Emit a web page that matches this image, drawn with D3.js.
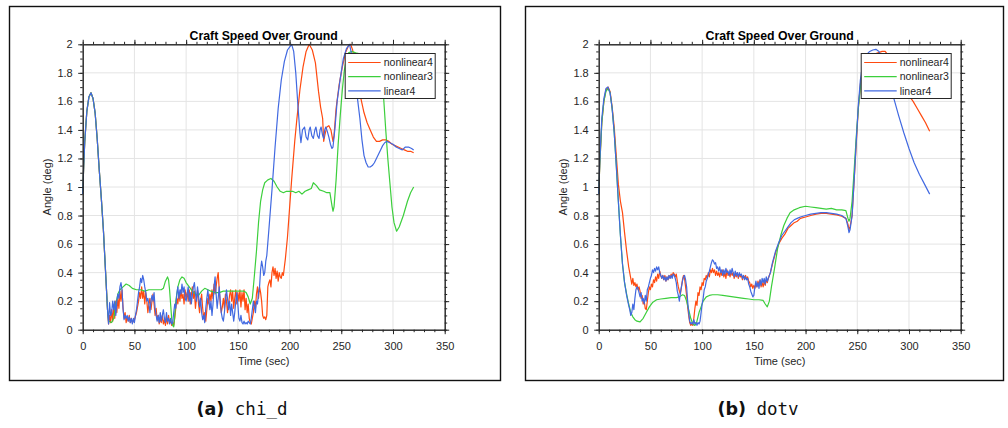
<!DOCTYPE html>
<html>
<head>
<meta charset="utf-8">
<script src="https://cdn.jsdelivr.net/npm/d3@7"></script>
<style>
  body { margin: 0; background: #fff; }
  svg { display: block; }
</style>
</head>
<body>
<div id="chart"></div>
<script>
// axis ticks
const timeTicks = [0, 50, 100, 150, 200, 250, 300, 350]
const angleTicks = [0, 0.2, 0.4, 0.6, 0.8, 1, 1.2, 1.4, 1.6, 1.8, 2]
const seriesNames = ['nonlinear4', 'nonlinear3', 'linear4']
const chartTitle = 'Craft Speed Over Ground'
const xLabel = 'Time (sec)'
const yLabel = 'Angle (deg)'

// (a) chi_d  -- [time, angle]
const chiStart = [[0,0.95],[1,1.15],[2,1.32],[4,1.53],[6,1.63],[8,1.66],[10,1.62],[12,1.52],[14,1.34],[16,1.12],[18,0.92],[20,0.7],[22,0.42],[24,0.14]]

const chiNonlinear4 = [[25,0.04],[26,0.1],[27,0.05],[28,0.14],[29,0.06],[30,0.16],[31,0.08],[32,0.2],[33,0.12],[34,0.22],[35,0.15],[36,0.27],[37,0.2],[38,0.28],[39,0.15],[40,0.08],[41,0.12],[42,0.05],[43,0.09],[44,0.06],[45,0.1],[46,0.05],[47,0.08],[48,0.05],[50,0.07],[52,0.12],[54,0.2],[55,0.26],[56,0.22],[57,0.3],[58,0.22],[59,0.27],[60,0.18],[61,0.26],[62,0.2],[63,0.12],[64,0.18],[65,0.22],[66,0.14],[67,0.2],[68,0.25],[69,0.18],[70,0.1],[71,0.15],[72,0.07],[73,0.1],[74,0.04],[75,0.08],[76,0.05],[77,0.1],[78,0.04],[79,0.07],[80,0.03],[81,0.09],[82,0.04],[83,0.1],[84,0.05],[85,0.06],[86,0.03],[87,0.05],[88,0.03],[89,0.08],[90,0.15],[91,0.22],[92,0.18],[93,0.26],[94,0.2],[95,0.28],[96,0.22],[97,0.25],[98,0.18],[99,0.28],[100,0.22],[101,0.26],[102,0.2],[103,0.28],[104,0.18],[105,0.24],[106,0.3],[107,0.22],[108,0.27],[109,0.15],[110,0.22],[111,0.28],[112,0.18],[113,0.12],[114,0.2],[115,0.25],[116,0.15],[117,0.08],[118,0.12],[119,0.06],[120,0.14],[121,0.22],[122,0.18],[123,0.25],[124,0.2],[125,0.28],[126,0.22],[127,0.32],[128,0.25],[129,0.3],[130,0.36],[131,0.4],[132,0.28],[133,0.18],[134,0.12],[135,0.16],[136,0.22],[137,0.15],[138,0.25],[139,0.2],[140,0.12],[141,0.18],[142,0.24],[143,0.28],[144,0.2],[145,0.27],[146,0.15],[147,0.22],[148,0.28],[149,0.18],[150,0.26],[151,0.2],[152,0.28],[153,0.16],[154,0.26],[155,0.2],[156,0.28],[157,0.14],[158,0.22],[159,0.12],[160,0.18],[161,0.08],[162,0.05],[163,0.04],[164,0.08],[165,0.12],[166,0.2],[167,0.15],[168,0.25],[169,0.3],[170,0.22],[171,0.3],[172,0.26],[173,0.2],[174,0.1],[175,0.08],[176,0.09],[177,0.07],[178,0.1],[179,0.3],[180,0.33],[181,0.35],[182,0.3],[183,0.4],[184,0.44],[185,0.38],[186,0.43],[187,0.36],[188,0.41],[189,0.34],[190,0.4],[191,0.37],[192,0.36],[193,0.4],[194,0.38],[195,0.44],[196,0.5],[198,0.65],[200,0.85],[202,1.05],[205,1.32],[207,1.47],[210,1.68],[213,1.84],[216,1.95],[219,2.0],[222,1.96],[225,1.87],[228,1.67],[230,1.56],[232,1.48],[233,1.32],[234,1.36],[236,1.42],[238,1.43],[240,1.4],[242,1.32],[243,1.36],[245,1.55],[248,1.72],[251,1.84],[254,1.94],[257,1.99],[259,2.0],[261,1.96],[263,1.88],[265,1.78],[267,1.7],[269,1.62],[272,1.52],[275,1.45],[278,1.4],[281,1.35],[284,1.32],[287,1.32],[290,1.33],[293,1.33],[296,1.32],[299,1.3],[302,1.29],[305,1.28],[308,1.27],[311,1.26],[314,1.25],[317,1.25],[320,1.24]]

const chiNonlinear3 = [[25,0.06],[28,0.05],[30,0.08],[32,0.18],[34,0.25],[36,0.28],[39,0.3],[42,0.32],[45,0.31],[48,0.29],[52,0.28],[56,0.28],[60,0.27],[64,0.28],[68,0.28],[72,0.28],[76,0.28],[78,0.29],[80,0.34],[82,0.37],[83,0.35],[84,0.28],[85,0.18],[86,0.08],[87,0.03],[88,0.02],[89,0.1],[90,0.2],[92,0.3],[94,0.35],[96,0.37],[98,0.36],[100,0.33],[103,0.3],[106,0.27],[109,0.25],[112,0.24],[115,0.27],[118,0.29],[121,0.28],[124,0.27],[128,0.26],[132,0.26],[136,0.27],[140,0.27],[144,0.27],[148,0.27],[152,0.27],[156,0.27],[158,0.26],[160,0.23],[162,0.18],[164,0.22],[166,0.38],[168,0.55],[170,0.75],[172,0.9],[174,0.98],[176,1.03],[179,1.05],[182,1.06],[185,1.04],[188,1.0],[191,0.97],[194,0.96],[197,0.97],[200,0.97],[203,0.97],[206,0.96],[209,0.97],[212,0.95],[215,0.97],[218,0.98],[221,0.99],[223,1.03],[226,1.01],[229,0.98],[233,0.97],[236,0.96],[239,0.96],[241,0.87],[242,0.83],[243,0.86],[245,1.05],[247,1.3],[249,1.5],[251,1.68],[253,1.82],[255,1.9],[257,1.94],[260,1.95],[264,1.94],[270,1.93],[276,1.92],[282,1.91],[286,1.88],[289,1.78],[291,1.62],[293,1.4],[295,1.2],[297,1.03],[299,0.86],[301,0.75],[303.5,0.69],[306,0.72],[310,0.8],[314,0.9],[317,0.96],[320,1.0]]

const chiLinear4 = [[25,0.04],[26,0.19],[27,0.1],[28,0.12],[29,0.2],[30,0.14],[31,0.2],[32,0.1],[33,0.2],[34,0.25],[35,0.22],[36,0.3],[37,0.33],[38,0.28],[39,0.15],[40,0.07],[41,0.1],[42,0.08],[43,0.1],[44,0.06],[45,0.09],[46,0.05],[47,0.08],[48,0.04],[49,0.08],[50,0.05],[51,0.1],[52,0.14],[53,0.2],[54,0.26],[55,0.3],[56,0.36],[57,0.33],[58,0.38],[59,0.35],[60,0.3],[61,0.26],[62,0.2],[63,0.22],[64,0.18],[65,0.12],[66,0.2],[67,0.24],[68,0.2],[69,0.26],[70,0.15],[71,0.1],[72,0.06],[73,0.1],[74,0.05],[75,0.12],[76,0.06],[77,0.1],[78,0.14],[79,0.08],[80,0.05],[81,0.12],[82,0.06],[83,0.08],[84,0.04],[85,0.08],[86,0.04],[87,0.05],[88,0.12],[89,0.18],[90,0.15],[91,0.25],[92,0.3],[93,0.22],[94,0.28],[95,0.25],[96,0.32],[97,0.26],[98,0.3],[99,0.22],[100,0.2],[101,0.25],[102,0.3],[103,0.2],[104,0.26],[105,0.18],[106,0.24],[107,0.3],[108,0.33],[109,0.25],[110,0.2],[111,0.3],[112,0.24],[113,0.16],[114,0.22],[115,0.12],[116,0.07],[117,0.1],[118,0.05],[119,0.15],[120,0.22],[121,0.28],[122,0.2],[123,0.14],[124,0.2],[125,0.1],[126,0.18],[127,0.3],[128,0.37],[129,0.25],[130,0.15],[131,0.22],[132,0.3],[133,0.2],[134,0.12],[135,0.08],[136,0.06],[137,0.12],[138,0.2],[139,0.28],[140,0.22],[141,0.14],[142,0.2],[143,0.1],[144,0.18],[145,0.12],[146,0.06],[147,0.12],[148,0.2],[149,0.26],[150,0.18],[151,0.08],[152,0.06],[153,0.1],[154,0.05],[155,0.04],[156,0.06],[157,0.04],[158,0.05],[159,0.04],[160,0.06],[161,0.05],[162,0.04],[163,0.08],[164,0.14],[165,0.2],[166,0.16],[167,0.12],[168,0.2],[169,0.18],[170,0.26],[171,0.3],[172,0.42],[173,0.48],[174,0.44],[175,0.38],[176,0.4],[177,0.48],[178,0.52],[180,0.7],[183,0.98],[186,1.28],[189,1.55],[192,1.75],[195,1.88],[198,1.96],[202,2.0],[204,1.95],[206,1.8],[208,1.58],[210,1.38],[211,1.31],[212.5,1.4],[214.5,1.42],[216,1.35],[217.6,1.33],[219,1.4],[220,1.42],[221.5,1.36],[223,1.34],[224.5,1.4],[225.5,1.42],[227,1.36],[228.5,1.34],[229.5,1.4],[230.5,1.42],[232,1.36],[233,1.34],[234,1.4],[235,1.42],[236.5,1.39],[238,1.35],[239.5,1.3],[241,1.27],[242,1.28],[244,1.42],[246,1.6],[249,1.76],[252,1.9],[255,1.97],[258,2.0],[260,1.93],[262,1.82],[264,1.72],[266,1.6],[268,1.48],[270,1.33],[272,1.22],[274,1.17],[276,1.14],[278,1.14],[280,1.15],[282,1.17],[284,1.2],[286,1.23],[288,1.26],[290,1.29],[292,1.31],[294,1.32],[297,1.31],[300,1.3],[303,1.28],[306,1.27],[309,1.26],[312,1.28],[315,1.28],[318,1.27],[320,1.26]]

// (b) dotv  -- [time, angle]
const dotvNonlinear4 = [[0,0.95],[1,1.15],[2,1.3],[3,1.45],[5,1.6],[7,1.68],[9,1.7],[11,1.67],[13,1.56],[15,1.42],[17,1.22],[19,1.02],[21,0.9],[23,0.82],[25,0.68],[27,0.55],[29,0.44],[31,0.36],[32,0.32],[33,0.36],[34,0.31],[35,0.33],[36,0.3],[37,0.32],[38,0.28],[39,0.3],[40,0.27],[41,0.22],[42,0.24],[43,0.18],[44,0.2],[45,0.15],[46,0.14],[47,0.2],[48,0.26],[49,0.3],[50,0.28],[51,0.32],[52,0.3],[53,0.35],[54,0.33],[55,0.37],[56,0.34],[57,0.39],[58,0.36],[59,0.41],[60,0.38],[61,0.36],[62,0.38],[63,0.35],[64,0.38],[65,0.34],[66,0.37],[67,0.35],[68,0.38],[69,0.36],[70,0.39],[71,0.37],[72,0.4],[73,0.39],[74,0.37],[75,0.39],[76,0.34],[77,0.3],[78,0.27],[79,0.25],[80,0.3],[81,0.35],[82,0.38],[83,0.36],[84,0.3],[85,0.24],[86,0.16],[87,0.1],[88,0.05],[89,0.03],[90,0.04],[91,0.03],[92,0.08],[93,0.15],[94,0.2],[95,0.17],[96,0.26],[97,0.24],[98,0.3],[99,0.28],[100,0.33],[101,0.31],[102,0.36],[103,0.35],[104,0.38],[105,0.36],[106,0.4],[107,0.37],[108,0.42],[109,0.4],[110,0.43],[111,0.4],[112,0.42],[113,0.38],[114,0.41],[115,0.38],[116,0.4],[117,0.37],[118,0.41],[119,0.38],[120,0.42],[121,0.37],[122,0.4],[123,0.36],[124,0.42],[125,0.38],[126,0.4],[127,0.37],[128,0.41],[129,0.38],[130,0.4],[131,0.36],[132,0.39],[133,0.37],[134,0.4],[135,0.36],[136,0.39],[137,0.37],[138,0.38],[139,0.35],[140,0.38],[141,0.36],[142,0.38],[143,0.35],[144,0.37],[145,0.34],[146,0.33],[147,0.3],[148,0.32],[149,0.29],[150,0.31],[151,0.29],[152,0.32],[153,0.3],[154,0.34],[155,0.31],[156,0.35],[157,0.3],[158,0.33],[159,0.3],[160,0.34],[161,0.31],[162,0.35],[163,0.33],[164,0.36],[166,0.4],[168,0.46],[171,0.54],[174,0.6],[177,0.64],[180,0.67],[183,0.71],[186,0.73],[189,0.75],[192,0.76],[195,0.78],[200,0.79],[205,0.8],[210,0.81],[215,0.815],[220,0.815],[225,0.81],[230,0.805],[235,0.795],[239,0.78],[241,0.74],[242,0.7],[243,0.72],[245,0.8],[247,1.05],[249,1.3],[251,1.55],[253,1.72],[255,1.82],[258,1.88],[262,1.92],[266,1.93],[270,1.94],[274,1.95],[277,1.95],[280,1.92],[285,1.86],[290,1.78],[295,1.7],[300,1.64],[304,1.6],[308,1.55],[312,1.5],[316,1.45],[320,1.39]]

const dotvNonlinear3 = [[0,0.95],[1,1.15],[2,1.3],[3,1.45],[5,1.6],[7,1.67],[9,1.69],[11,1.66],[13,1.55],[15,1.38],[17,1.15],[19,0.9],[21,0.66],[23,0.46],[25,0.33],[27,0.25],[29,0.18],[31,0.12],[33,0.09],[35,0.07],[37,0.06],[40,0.055],[43,0.08],[46,0.12],[49,0.16],[52,0.19],[56,0.21],[60,0.215],[65,0.22],[70,0.225],[75,0.225],[78,0.23],[81,0.245],[83,0.24],[85,0.2],[87,0.14],[89,0.08],[91,0.04],[93,0.03],[95,0.06],[97,0.12],[99,0.16],[101,0.2],[104,0.23],[107,0.24],[110,0.245],[115,0.245],[120,0.24],[125,0.235],[130,0.23],[135,0.225],[140,0.22],[145,0.215],[150,0.21],[155,0.21],[159,0.205],[161,0.18],[163,0.16],[165,0.2],[167,0.3],[170,0.43],[173,0.57],[176,0.66],[179,0.73],[182,0.78],[185,0.82],[189,0.84],[194,0.855],[200,0.865],[205,0.86],[210,0.855],[215,0.85],[220,0.845],[225,0.85],[230,0.84],[235,0.84],[239,0.835],[241,0.78],[242,0.76],[243,0.78],[245,0.9],[247,1.12],[249,1.35],[251,1.55],[253,1.7],[255,1.8],[258,1.86],[262,1.9],[266,1.92]]

const dotvLinear4 = [[0,0.95],[1,1.17],[2,1.33],[3,1.48],[5,1.62],[7,1.69],[9,1.7],[11,1.66],[13,1.55],[15,1.38],[17,1.15],[19,0.9],[21,0.66],[23,0.46],[25,0.33],[27,0.24],[29,0.17],[30,0.14],[31,0.1],[32,0.12],[33,0.18],[34,0.14],[35,0.22],[36,0.28],[37,0.3],[38,0.29],[39,0.26],[40,0.23],[41,0.26],[42,0.2],[43,0.22],[44,0.18],[45,0.24],[46,0.2],[47,0.28],[48,0.3],[49,0.33],[50,0.36],[51,0.38],[52,0.42],[53,0.4],[54,0.43],[55,0.41],[56,0.44],[57,0.42],[58,0.44],[59,0.4],[60,0.38],[61,0.36],[62,0.38],[63,0.35],[64,0.37],[65,0.34],[66,0.37],[67,0.35],[68,0.38],[69,0.36],[70,0.38],[71,0.36],[72,0.39],[73,0.38],[74,0.36],[75,0.33],[76,0.27],[77,0.24],[78,0.2],[79,0.26],[80,0.3],[81,0.34],[82,0.37],[83,0.38],[84,0.35],[85,0.3],[86,0.2],[87,0.12],[88,0.06],[89,0.04],[90,0.05],[91,0.04],[92,0.07],[93,0.04],[94,0.05],[95,0.03],[96,0.05],[97,0.04],[98,0.06],[99,0.12],[100,0.18],[101,0.22],[102,0.28],[103,0.3],[104,0.34],[105,0.36],[106,0.39],[107,0.41],[108,0.44],[109,0.47],[110,0.49],[111,0.48],[112,0.46],[113,0.47],[114,0.43],[115,0.44],[116,0.41],[117,0.44],[118,0.4],[119,0.42],[120,0.38],[121,0.42],[122,0.39],[123,0.43],[124,0.4],[125,0.41],[126,0.38],[127,0.42],[128,0.39],[129,0.43],[130,0.4],[131,0.37],[132,0.41],[133,0.38],[134,0.4],[135,0.37],[136,0.4],[137,0.38],[138,0.39],[139,0.36],[140,0.38],[141,0.35],[142,0.37],[143,0.35],[144,0.36],[145,0.32],[146,0.3],[147,0.27],[148,0.25],[149,0.23],[150,0.24],[151,0.3],[152,0.34],[153,0.3],[154,0.33],[155,0.29],[156,0.35],[157,0.31],[158,0.36],[159,0.33],[160,0.36],[161,0.32],[162,0.37],[163,0.34],[164,0.36],[166,0.4],[168,0.47],[171,0.55],[174,0.61],[177,0.66],[180,0.69],[183,0.72],[186,0.75],[189,0.77],[192,0.78],[195,0.79],[200,0.8],[205,0.81],[210,0.815],[215,0.82],[220,0.82],[225,0.815],[230,0.81],[235,0.8],[239,0.78],[241,0.72],[242,0.68],[243,0.7],[245,0.8],[247,1.05],[249,1.32],[251,1.57],[253,1.75],[255,1.85],[258,1.92],[262,1.95],[265,1.96],[268,1.965],[271,1.95],[275,1.88],[280,1.77],[285,1.63],[290,1.5],[295,1.38],[300,1.27],[305,1.17],[310,1.09],[315,1.02],[320,0.95]]

const panels = [
  { left: 9, frameWidth: 491, label: '(a)', name: 'chi_d',
    series: [chiStart.concat(chiNonlinear4), chiStart.concat(chiNonlinear3), chiStart.concat(chiLinear4)] },
  { left: 525, frameWidth: 478, label: '(b)', name: 'dotv',
    series: [dotvNonlinear4, dotvNonlinear3, dotvLinear4] }
]

const colors = ['#ff4a0f', '#3ccf3c', '#4169e1']
const axisColor = '#262626'
const gridColor = '#e4e4e4'
const font = 'Liberation Sans, Arial, Helvetica, sans-serif'

const width = 1008
const height = 428

const svg = d3.select('#chart')
  .append('svg')
  .attr('width', width)
  .attr('height', height)
  .style('font-family', font)

function drawPanel (panel) {
  const frame = { top: 6, height: 374 }
  const plot = { left: 73.7, top: 44.3, width: 362, height: 285.4 }

  const g = svg.append('g')
    .attr('transform', `translate(${panel.left},0)`)

  g.append('rect')
    .attr('x', 0.5)
    .attr('y', frame.top + 0.5)
    .attr('width', panel.frameWidth)
    .attr('height', frame.height)
    .attr('fill', 'none')
    .attr('stroke', '#111')
    .attr('stroke-width', 1.4)

  const xScale = d3.scaleLinear()
    .domain([0, 350])
    .range([plot.left, plot.left + plot.width])

  const yScale = d3.scaleLinear()
    .domain([0, 2])
    .range([plot.top + plot.height, plot.top])

  // grid
  g.append('g')
    .selectAll('line')
    .data(timeTicks.slice(1, -1))
    .join('line')
    .attr('x1', d => xScale(d)).attr('x2', d => xScale(d))
    .attr('y1', yScale(0)).attr('y2', yScale(2))
    .attr('stroke', gridColor)
  g.append('g')
    .selectAll('line')
    .data(angleTicks.slice(1, -1))
    .join('line')
    .attr('x1', xScale(0)).attr('x2', xScale(350))
    .attr('y1', d => yScale(d)).attr('y2', d => yScale(d))
    .attr('stroke', gridColor)

  // series
  const line = d3.line()
    .x(d => xScale(d[0]))
    .y(d => yScale(d[1]))

  panel.series.forEach((s, i) => {
    g.append('path')
      .datum(s)
      .attr('fill', 'none')
      .attr('stroke', colors[i])
      .attr('stroke-width', 1.2)
      .attr('stroke-linejoin', 'round')
      .attr('d', line)
  })

  // axes
  const minorX = d3.range(0, 351, 10)
  const minorY = d3.range(0, 2.001, 0.05)

  const styleAxis = sel => {
    sel.select('.domain').attr('stroke', axisColor)
    sel.selectAll('.tick line').attr('stroke', axisColor)
    sel.selectAll('.tick text').attr('fill', axisColor).attr('font-size', 11).attr('font-family', font)
  }

  const bottom = yScale(0)
  const top = yScale(2)
  const leftX = xScale(0)
  const rightX = xScale(350)

  g.append('g').attr('transform', `translate(0,${bottom})`)
    .call(d3.axisBottom(xScale).tickValues(minorX).tickSize(2.5).tickSizeOuter(0).tickFormat(''))
    .call(styleAxis)
  g.append('g').attr('transform', `translate(0,${bottom})`)
    .call(d3.axisBottom(xScale).tickValues(timeTicks).tickSize(4.5).tickSizeOuter(0).tickPadding(8.5).tickFormat(d3.format('d')))
    .call(styleAxis)
  g.append('g').attr('transform', `translate(0,${top})`)
    .call(d3.axisTop(xScale).tickValues(minorX).tickSize(2.5).tickSizeOuter(0).tickFormat(''))
    .call(styleAxis)
  g.append('g').attr('transform', `translate(0,${top})`)
    .call(d3.axisTop(xScale).tickValues(timeTicks).tickSize(4.5).tickSizeOuter(0).tickFormat(''))
    .call(styleAxis)

  g.append('g').attr('transform', `translate(${leftX},0)`)
    .call(d3.axisLeft(yScale).tickValues(minorY).tickSize(2.5).tickSizeOuter(0).tickFormat(''))
    .call(styleAxis)
  g.append('g').attr('transform', `translate(${leftX},0)`)
    .call(d3.axisLeft(yScale).tickValues(angleTicks).tickSize(4.5).tickSizeOuter(0).tickPadding(5.5).tickFormat(d => d3.format('~g')(d)))
    .call(styleAxis)
  g.append('g').attr('transform', `translate(${rightX},0)`)
    .call(d3.axisRight(yScale).tickValues(minorY).tickSize(2.5).tickSizeOuter(0).tickFormat(''))
    .call(styleAxis)
  g.append('g').attr('transform', `translate(${rightX},0)`)
    .call(d3.axisRight(yScale).tickValues(angleTicks).tickSize(4.5).tickSizeOuter(0).tickFormat(''))
    .call(styleAxis)

  // labels
  const midX = (leftX + rightX) / 2
  g.append('text')
    .attr('x', midX)
    .attr('y', 39.5)
    .attr('text-anchor', 'middle')
    .attr('font-size', 12.3)
    .attr('font-weight', 'bold')
    .attr('fill', '#000')
    .text(chartTitle)

  g.append('text')
    .attr('x', midX)
    .attr('y', 364.5)
    .attr('text-anchor', 'middle')
    .attr('font-size', 11)
    .attr('fill', axisColor)
    .text(xLabel)

  g.append('text')
    .attr('transform', `translate(${leftX - 31.5},${(top + bottom) / 2}) rotate(-90)`)
    .attr('text-anchor', 'middle')
    .attr('font-size', 11)
    .attr('fill', axisColor)
    .text(yLabel)

  // legend
  const lg = g.append('g')
    .attr('transform', `translate(${rightX - 100},${top + 8.7})`)
  lg.append('rect')
    .attr('x', 0.5).attr('y', 0.5)
    .attr('width', 90).attr('height', 45)
    .attr('fill', '#fff')
    .attr('stroke', axisColor)
    .attr('stroke-width', 1)
  seriesNames.forEach((name, i) => {
    const ly = 9.5 + i * 14.2
    lg.append('line')
      .attr('x1', 3.5).attr('x2', 36)
      .attr('y1', ly).attr('y2', ly)
      .attr('stroke', colors[i])
      .attr('stroke-width', 1.2)
    lg.append('text')
      .attr('x', 39)
      .attr('y', ly)
      .attr('dy', '0.35em')
      .attr('font-size', 10.5)
      .attr('fill', axisColor)
      .text(name)
  })

  // caption
  const cap = g.append('text')
    .attr('x', 233)
    .attr('y', 414.5)
    .attr('text-anchor', 'middle')
    .attr('font-size', 17.5)
    .attr('fill', '#111')
  cap.append('tspan')
    .attr('font-family', 'DejaVu Sans, sans-serif')
    .attr('font-weight', 'bold')
    .text(panel.label)
  cap.append('tspan')
    .attr('font-family', 'DejaVu Sans Mono, monospace')
    .text(' ' + panel.name)
}

panels.forEach(drawPanel)
</script>
</body>
</html>
